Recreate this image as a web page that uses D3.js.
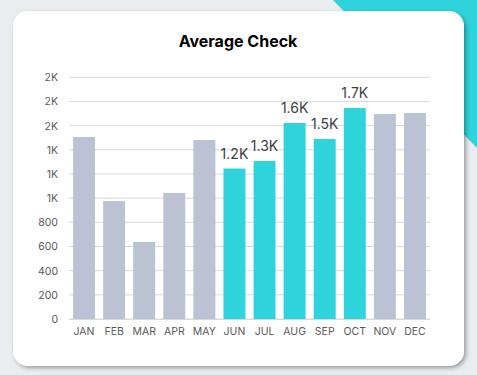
<!DOCTYPE html>
<html><head><meta charset="utf-8">
<script src="https://cdn.jsdelivr.net/npm/d3@7"></script>
<style>body{margin:0;background:#e9edf0;}svg{display:block;}</style>
</head><body>
<svg id="c" width="477" height="375"></svg>
<script>
const months = ["JAN","FEB","MAR","APR","MAY","JUN","JUL","AUG","SEP","OCT","NOV","DEC"];
const values = [1506, 976, 637, 1043, 1481, 1245, 1307, 1622, 1489, 1746, 1696, 1705];
const highlighted = ["JUN","JUL","AUG","SEP","OCT"];
const yTicks = [0,200,400,600,800,1000,1200,1400,1600,1800,2000];
const yTickLabels = ["0","200","400","600","800","1K","1K","1K","2K","2K","2K"];
const title = "Average Check";

const svg = d3.select("#c");
const W = 477, H = 375;
svg.append("rect").attr("width",W).attr("height",H).attr("fill","#e9edf0");
svg.append("polygon").attr("points","333,0 477,0 477,148").attr("fill","#2fd3dc");
const defs = svg.append("defs");
const f = defs.append("filter").attr("id","sh").attr("x","-10%").attr("y","-10%").attr("width","120%").attr("height","120%");
f.append("feDropShadow").attr("dx",2).attr("dy",2).attr("stdDeviation",2).attr("flood-color","#000").attr("flood-opacity",0.35);
svg.append("rect").attr("x",13).attr("y",11).attr("width",451).attr("height",355).attr("rx",15)
  .attr("fill","#fff").attr("filter","url(#sh)");

svg.append("text").attr("x",238).attr("y",47).attr("text-anchor","middle")
  .attr("font-family","Inter, 'Open Sans', sans-serif").attr("font-weight","bold")
  .attr("font-size",16).attr("fill","#000").text(title);

const x = d3.scaleBand().domain(months).range([69,430]).paddingInner(0.27).paddingOuter(0.135);
const y = d3.scaleLinear().domain([0,2000]).range([319,77.3]);

const grid = svg.append("g");
grid.selectAll("line").data(yTicks).join("line")
  .attr("x1",69).attr("x2",430).attr("y1",d=>y(d)).attr("y2",d=>y(d))
  .attr("stroke","#d9d9d9").attr("stroke-width",1);

const yAxis = svg.append("g").attr("transform","translate(69,0)")
  .call(d3.axisLeft(y).tickValues(yTicks).tickFormat((d,i)=>yTickLabels[i]).tickSize(0).tickPadding(11));
yAxis.select(".domain").remove();
yAxis.selectAll("text").attr("font-family","Inter, 'Open Sans', sans-serif").attr("font-size",10.5).attr("fill","#595959");

svg.append("g").selectAll("rect").data(months).join("rect")
  .attr("x",d=>x(d)).attr("width",x.bandwidth())
  .attr("y",(d,i)=>y(values[i])).attr("height",(d,i)=>y(0)-y(values[i]))
  .attr("fill",d=>highlighted.includes(d)?"#2fd3dc":"#bbc2d4");

svg.append("line").attr("x1",69).attr("x2",430).attr("y1",319.5).attr("y2",319.5).attr("stroke","#d9d9d9");

const xAxis = svg.append("g").attr("transform","translate(0,319)")
  .call(d3.axisBottom(x).tickSize(0).tickPadding(9));
xAxis.select(".domain").remove();
xAxis.selectAll("text").attr("font-family","Inter, 'Open Sans', sans-serif").attr("font-size",10.5).attr("fill","#595959");

svg.append("g").selectAll("text").data(months.filter(m=>highlighted.includes(m))).join("text")
  .attr("x",d=>x(d)+x.bandwidth()/2).attr("y",d=>y(values[months.indexOf(d)])-10)
  .attr("text-anchor","middle").attr("font-family","Inter, 'Open Sans', sans-serif")
  .attr("font-size",14).attr("font-weight",400).attr("fill","#404040")
  .text(d=>(Math.round(values[months.indexOf(d)]/100)/10).toFixed(1)+"K");
</script>
</body></html>
